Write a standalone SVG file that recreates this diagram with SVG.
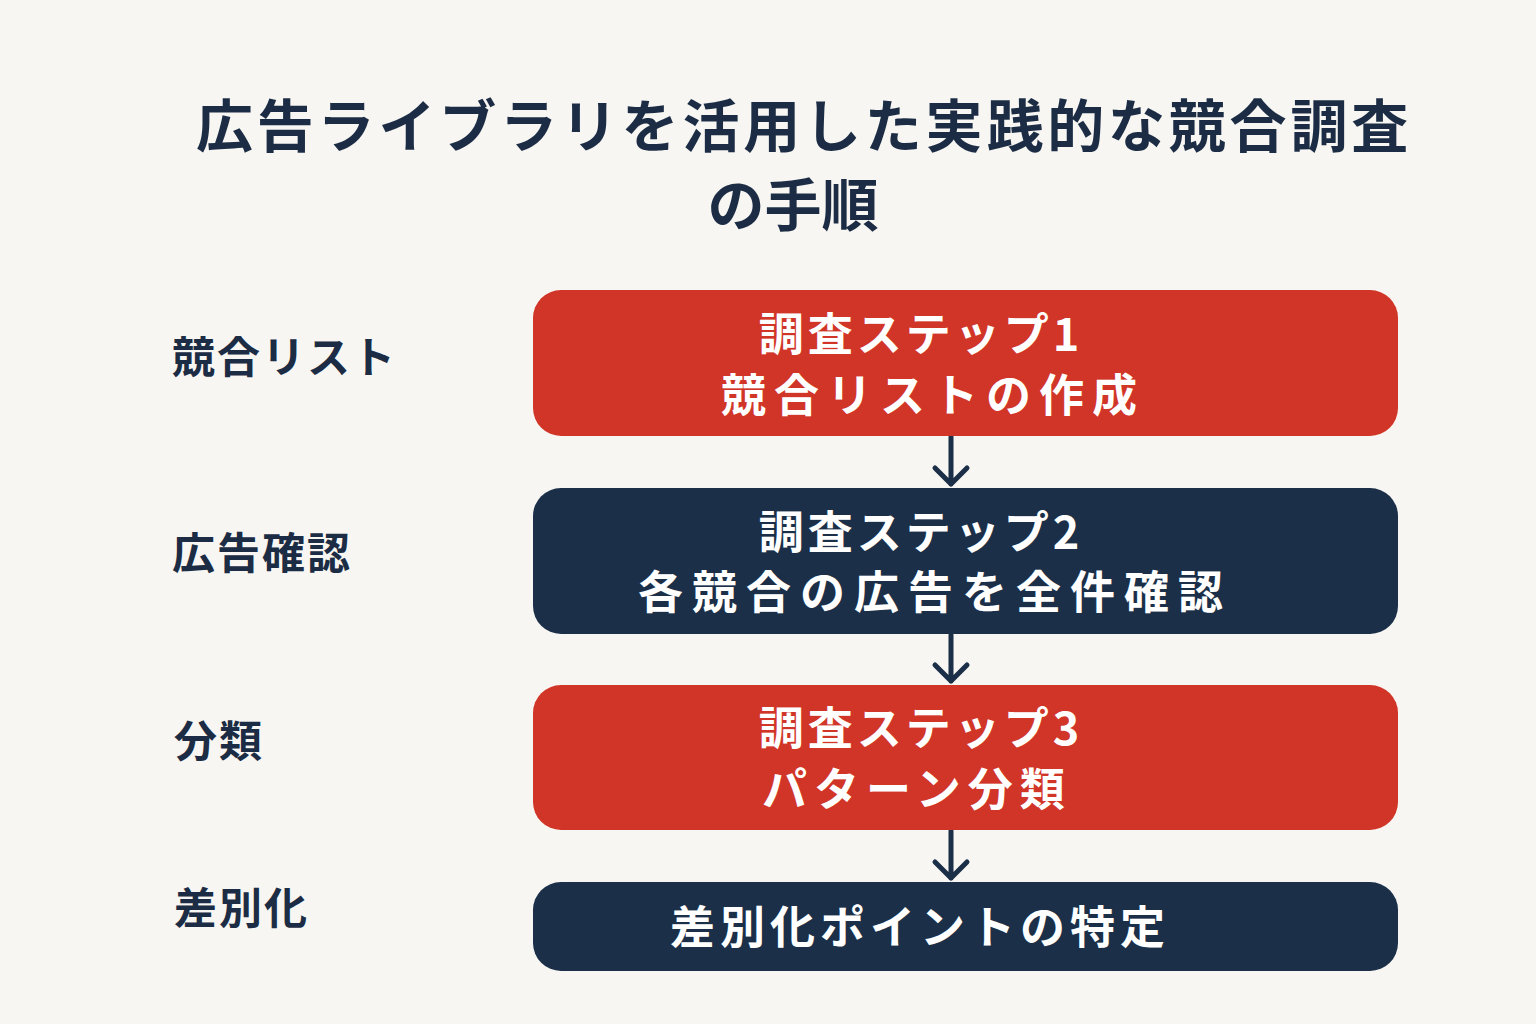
<svg xmlns="http://www.w3.org/2000/svg" width="1536" height="1024" viewBox="0 0 1536 1024">
<style>
text{font-family:"Noto Sans CJK JP","Noto Sans",sans-serif;font-weight:700}
.title{font-size:57px;fill:#1B2C44}
.lbl{font-size:43px;fill:#1B2C44;letter-spacing:2px}
.bt{font-size:45px;fill:#FFFFFF;text-anchor:middle}
.red{fill:#D13527}
.navy{fill:#1B2F48}
.conn{stroke:#1B2F48;stroke-width:5;fill:none;stroke-linecap:round;stroke-linejoin:round}
</style>
<rect width="1536" height="1024" fill="#F7F6F2"/>
<g id="title">
<text class="title" x="196" y="147" letter-spacing="3.8">広告ライブラリを活用した実践的な競合調査</text>
<text class="title" x="793" y="226" text-anchor="middle">の手順</text>
</g>
<g id="labels">
<text class="lbl" x="172" y="373">競合リスト</text>
<text class="lbl" x="172" y="569" letter-spacing="4">広告確認</text>
<text class="lbl" x="174" y="757">分類</text>
<text class="lbl" x="174" y="924" letter-spacing="3">差別化</text>
</g>
<g id="connectors">
<path class="conn" d="M951 437 V484 M935 468 L951 484 L967 468"/>
<path class="conn" d="M951 635 V681 M935 665 L951 681 L967 665"/>
<path class="conn" d="M951 831 V878 M935 862 L951 878 L967 862"/>
</g>
<g id="step1">
<rect class="red" x="533" y="290" width="865" height="146" rx="28"/>
<text class="bt" x="921" y="351" letter-spacing="4">調査ステップ1</text>
<text class="bt" x="933" y="412" letter-spacing="8">競合リストの作成</text>
</g>
<g id="step2">
<rect class="navy" x="533" y="488" width="865" height="146" rx="28"/>
<text class="bt" x="921" y="549" letter-spacing="4">調査ステップ2</text>
<text class="bt" x="935" y="609" letter-spacing="9">各競合の広告を全件確認</text>
</g>
<g id="step3">
<rect class="red" x="533" y="685" width="865" height="145" rx="28"/>
<text class="bt" x="921" y="745" letter-spacing="4">調査ステップ3</text>
<text class="bt" x="917" y="806" letter-spacing="7">パターン分類</text>
</g>
<g id="step4">
<rect class="navy" x="533" y="882" width="865" height="89" rx="28"/>
<text class="bt" x="920" y="944" letter-spacing="5">差別化ポイントの特定</text>
</g>
</svg>
